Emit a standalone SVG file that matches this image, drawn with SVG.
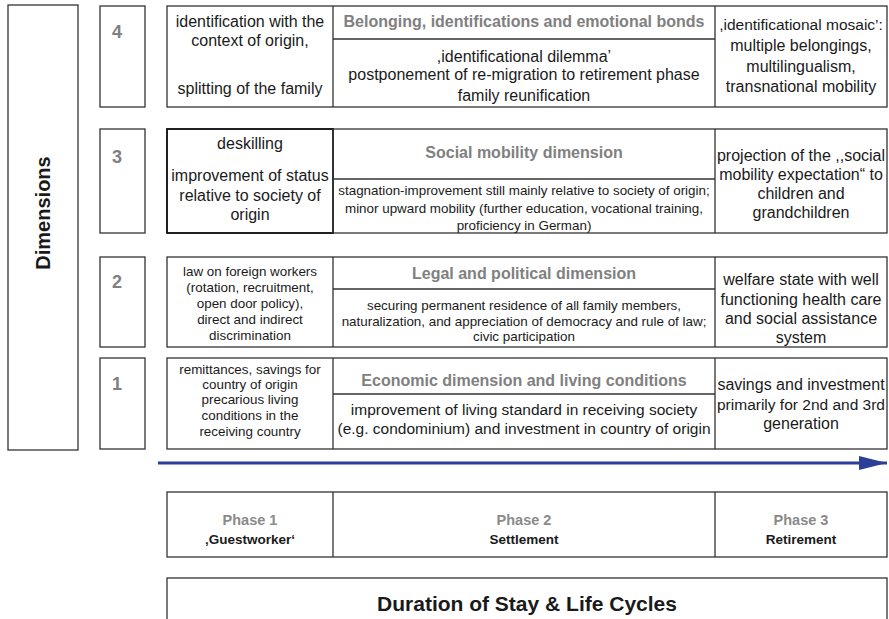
<svg xmlns="http://www.w3.org/2000/svg" width="889" height="619" viewBox="0 0 889 619">
<defs>
<style>
.box{fill:#fff;stroke:#333;stroke-width:1.3}
.ln{stroke:#333;stroke-width:1.3;fill:none}
text{font-family:"Liberation Sans",Arial,sans-serif;fill:#1a1a1a;text-anchor:middle}
.t16{font-size:16px}
.t155{font-size:15.5px}
.t135{font-size:13.4px}
.hd{font-size:16px;font-weight:bold;fill:#808080}
.num{font-size:18px;font-weight:bold;fill:#808080}
.ph{font-size:14.5px;font-weight:bold;fill:#8a8a8a}
.phb{font-size:13.5px;font-weight:bold;fill:#1a1a1a}
</style>
<marker id="ah" viewBox="0 0 28 14" refX="28" refY="7" markerWidth="28" markerHeight="14" markerUnits="userSpaceOnUse" orient="auto">
<path d="M0,0 L28,7 L0,14 z" fill="#2b3f99"/>
</marker>
</defs>
<rect width="889" height="619" fill="#fff"/>

<g id="dimensions">
<rect class="box" x="8" y="5" width="70" height="445"/>
<text transform="translate(50,213) rotate(-90)" style="font-size:20px;font-weight:bold">Dimensions</text>
</g>

<g id="num4"><rect class="box" x="100" y="6" width="45" height="101"/><text class="num" x="117" y="38">4</text></g>
<g id="num3"><rect class="box" x="100" y="129" width="45" height="104"/><text class="num" x="117" y="163">3</text></g>
<g id="num2"><rect class="box" x="100" y="257" width="45" height="90"/><text class="num" x="117" y="288">2</text></g>
<g id="num1"><rect class="box" x="100" y="358" width="45" height="91"/><text class="num" x="117" y="390">1</text></g>

<g id="row4">
<rect class="box" x="167" y="6" width="720" height="101"/>
<path class="ln" d="M333,6 V107 M715,6 V107 M333,39 H715"/>
<text class="t16" x="250" y="27">identification with the</text>
<text class="t16" x="250" y="46">context of origin,</text>
<text class="t16" x="250" y="94">splitting of the family</text>
<text class="hd" x="524" y="27">Belonging, identifications and emotional bonds</text>
<text class="t16" x="524" y="62">,identificational dilemma’</text>
<text class="t16" x="524" y="80">postponement of re-migration to retirement phase</text>
<text class="t16" x="524" y="101">family reunification</text>
<text class="t155" x="801" y="30">,identificational mosaic’:</text>
<text class="t16" x="801" y="51">multiple belongings,</text>
<text class="t16" x="801" y="72">multilingualism,</text>
<text class="t16" x="801" y="92">transnational mobility</text>
</g>

<g id="row3">
<rect class="box" x="167" y="129" width="720" height="104"/>
<rect x="167" y="129" width="166" height="104" fill="none" stroke="#111" stroke-width="1.7"/>
<path class="ln" d="M333,129 V233 M715,129 V233 M333,179 H715"/>
<text class="t16" x="250" y="149">deskilling</text>
<text class="t16" x="250" y="181">improvement of status</text>
<text class="t16" x="250" y="201">relative to society of</text>
<text class="t16" x="250" y="220">origin</text>
<text class="hd" x="524" y="158">Social mobility dimension</text>
<text class="t135" x="524" y="195">stagnation-improvement still mainly relative to society of origin;</text>
<text class="t135" x="524" y="213">minor upward mobility (further education, vocational training,</text>
<text class="t135" x="524" y="230">proficiency in German)</text>
<text class="t16" x="801" y="161">projection of the ,,social</text>
<text class="t16" x="801" y="180">mobility expectation“ to</text>
<text class="t16" x="801" y="199">children and</text>
<text class="t16" x="801" y="218">grandchildren</text>
</g>

<g id="row2">
<rect class="box" x="167" y="257" width="720" height="90"/>
<path class="ln" d="M333,257 V347 M715,257 V347 M333,289 H715"/>
<text class="t135" x="250" y="276">law on foreign workers</text>
<text class="t135" x="250" y="292">(rotation, recruitment,</text>
<text class="t135" x="250" y="308">open door policy),</text>
<text class="t135" x="250" y="324">direct and indirect</text>
<text class="t135" x="250" y="340">discrimination</text>
<text class="hd" x="524" y="279">Legal and political dimension</text>
<text class="t135" x="524" y="310">securing permanent residence of all family members,</text>
<text class="t135" x="524" y="326">naturalization, and appreciation of democracy and rule of law;</text>
<text class="t135" x="524" y="341">civic participation</text>
<text class="t16" x="801" y="285">welfare state with well</text>
<text class="t16" x="801" y="305">functioning health care</text>
<text class="t16" x="801" y="324">and social assistance</text>
<text class="t16" x="801" y="343">system</text>
</g>

<g id="row1">
<rect class="box" x="167" y="358" width="720" height="91"/>
<path class="ln" d="M333,358 V449 M715,358 V449 M333,394 H715"/>
<text class="t135" x="250" y="374">remittances, savings for</text>
<text class="t135" x="250" y="389">country of origin</text>
<text class="t135" x="250" y="404">precarious living</text>
<text class="t135" x="250" y="420">conditions in the</text>
<text class="t135" x="250" y="436">receiving country</text>
<text class="hd" x="524" y="386">Economic dimension and living conditions</text>
<text class="t155" x="524" y="415">improvement of living standard in receiving society</text>
<text class="t155" x="524" y="434">(e.g. condominium) and investment in country of origin</text>
<text class="t16" x="801" y="390">savings and investment</text>
<text class="t155" x="801" y="410">primarily for 2nd and 3rd</text>
<text class="t16" x="801" y="429">generation</text>
</g>

<g id="connectors">
<line x1="158" y1="463" x2="887" y2="463" stroke="#2b3f99" stroke-width="3" marker-end="url(#ah)"/>
</g>

<g id="phases">
<rect class="box" x="167" y="492" width="720" height="65"/>
<path class="ln" d="M333,492 V557 M715,492 V557"/>
<text class="ph" x="250" y="525">Phase 1</text>
<text class="phb" x="250" y="544">‚Guestworker‘</text>
<text class="ph" x="524" y="525">Phase 2</text>
<text class="phb" x="524" y="544">Settlement</text>
<text class="ph" x="801" y="525">Phase 3</text>
<text class="phb" x="801" y="544">Retirement</text>
</g>

<g id="duration">
<rect class="box" x="167" y="578" width="720" height="80"/>
<text x="527" y="611" style="font-size:21px;font-weight:bold">Duration of Stay &amp; Life Cycles</text>
</g>
</svg>
